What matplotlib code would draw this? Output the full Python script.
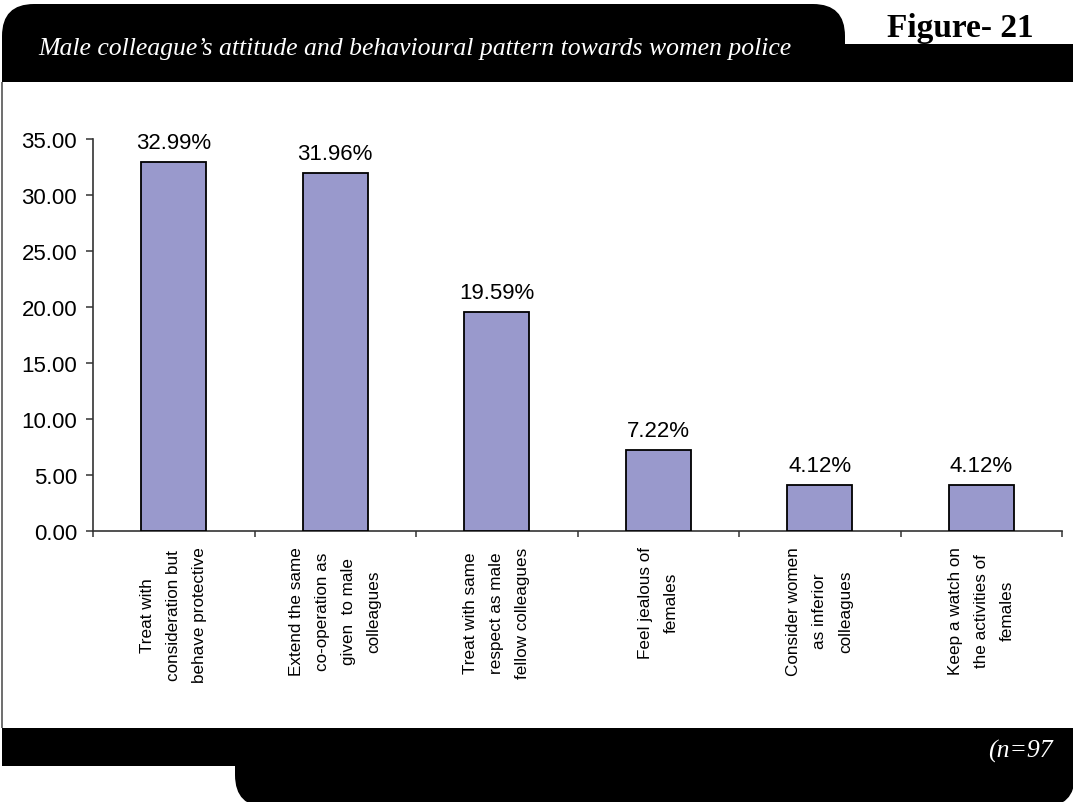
import matplotlib
matplotlib.use("Agg")
import matplotlib.pyplot as plt
from matplotlib import font_manager
from matplotlib.patches import FancyBboxPatch, Rectangle
import numpy as np

# ---- data ----
categories = [
    "Treat with\nconsideration but\nbehave protective",
    "Extend the same\nco-operation as\ngiven  to male\ncolleagues",
    "Treat with same\nrespect as male\nfellow colleagues",
    "Feel jealous of\nfemales",
    "Consider women\nas inferior\ncolleagues",
    "Keep a watch on\nthe activities of\nfemales",
]
percentages = [32.99, 31.96, 19.59, 7.22, 4.12, 4.12]
y_ticks = [0, 5, 10, 15, 20, 25, 30, 35]
title = "Male colleague\u2019s attitude and behavioural pattern towards women police"
figure_tag = "Figure- 21"
sample_note = "(n=97"

installed = {f.name for f in font_manager.fontManager.ttflist}
sans = "Liberation Sans" if "Liberation Sans" in installed else "DejaVu Sans"
serif = "Liberation Serif" if "Liberation Serif" in installed else "DejaVu Serif"
if "Liberation Sans Narrow" in installed:
    cat_font, cat_size = "Liberation Sans Narrow", 15
else:
    cat_font, cat_size = sans, 12.3

plt.rcParams["font.family"] = [sans, "DejaVu Sans"]

W, H = 1073, 803
fig = plt.figure(figsize=(W / 100, H / 100), dpi=100)

# ---- page frame drawn in pixel coordinates ----
bg = fig.add_axes([0, 0, 1, 1])
bg.set_xlim(0, W)
bg.set_ylim(H, 0)
bg.axis("off")

# top banner with rounded upper corners and the right-hand strip
bg.add_patch(FancyBboxPatch((2, 5), 843, 78, boxstyle="round,pad=0,rounding_size=32",
                            fc="black", ec="none"))
bg.add_patch(Rectangle((2, 45), 843, 38, fc="black", ec="none"))
bg.add_patch(Rectangle((840, 45), 240, 38, fc="black", ec="none"))

# bottom band with the lower tab
bg.add_patch(Rectangle((2, 729), 1075, 38, fc="black", ec="none"))
bg.add_patch(FancyBboxPatch((235, 729), 840, 79, boxstyle="round,pad=0,rounding_size=32",
                            fc="black", ec="none"))

# left border of the white panel
bg.plot([2, 2], [83, 729], color="#555555", lw=1.2, solid_capstyle="butt")

bg.text(38, 55, title, color="white", fontsize=18.5, family=serif, style="italic",
        ha="left", va="baseline")
bg.text(960, 37, figure_tag, color="black", fontsize=24, family=serif, weight="bold",
        ha="center", va="baseline")
bg.text(1053, 758, sample_note, color="white", fontsize=18.5, family=serif, style="italic",
        ha="right", va="baseline")

# ---- bar chart ----
ax = fig.add_axes([93 / W, (H - 532) / H, (1062 - 93) / W, (532 - 140) / H])
ax.patch.set_alpha(0)
x = np.arange(len(categories))
ax.bar(x, percentages, width=0.4, color="#9999CC", edgecolor="black", linewidth=1.3, zorder=3)

for xi, v in zip(x, percentages):
    ax.annotate(f"{v:.2f}%", (xi, v), xytext=(0, 10), textcoords="offset points",
                ha="center", va="baseline", fontsize=16, color="black")

ax.set_xlim(-0.5, len(categories) - 0.5)
ax.set_ylim(0, 35)
ax.set_yticks(y_ticks)
ax.set_yticklabels([f"{v:.2f}" for v in y_ticks], fontsize=16)

ax.set_xticks(np.arange(-0.5, len(categories), 1.0))
ax.set_xticklabels([])
ax.set_xticks(x, minor=True)
ax.set_xticklabels(categories, minor=True, rotation=90, fontsize=cat_size, family=cat_font)
for t in ax.get_xticklabels(minor=True):
    t.set_linespacing(1.9)
    t.set_multialignment("center")

ax.tick_params(axis="x", which="minor", length=0, pad=11)
ax.tick_params(axis="x", which="major", length=4.5, width=1.1, color="#333333", direction="out")
ax.tick_params(axis="y", length=5, width=1.1, color="#333333", pad=6.5, direction="out")

for side in ("top", "right"):
    ax.spines[side].set_visible(False)
for side in ("left", "bottom"):
    ax.spines[side].set_color("#333333")
    ax.spines[side].set_linewidth(1.2)

fig.savefig("out.png", dpi=100)
